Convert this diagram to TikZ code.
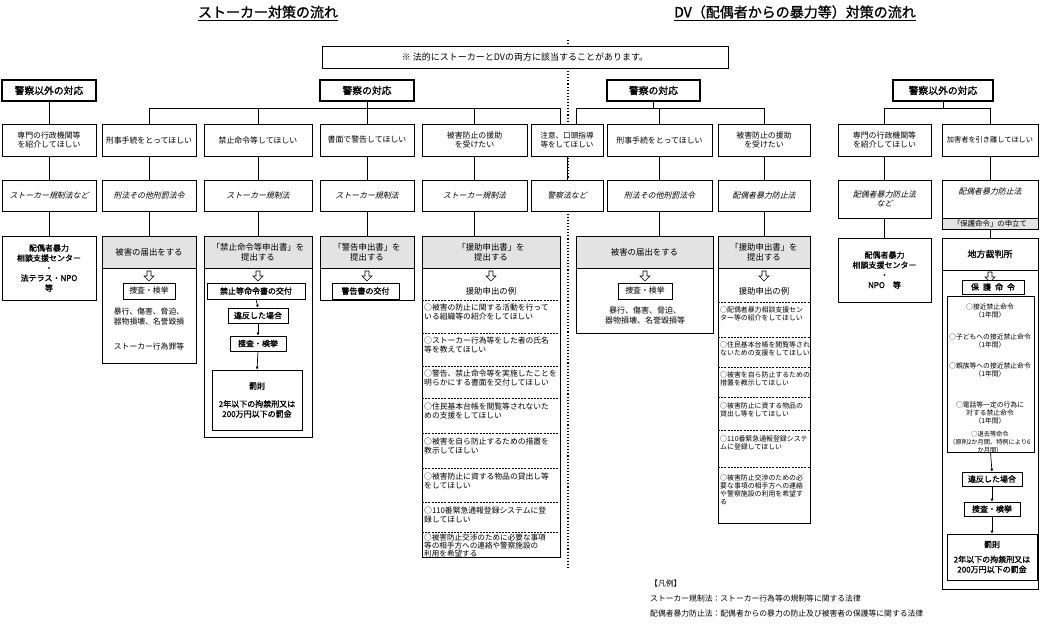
\documentclass[tikz,border=0pt]{standalone}
\usepackage{fontspec}
\setmainfont{Noto Sans CJK JP}
\newfontfamily\jb[FakeBold=1.2]{Noto Sans CJK JP}
\newfontfamily\ji[FakeSlant=0.25]{Noto Sans CJK JP}
\usetikzlibrary{arrows.meta}
\tikzset{
 b/.style={draw,fill=white,line width=0.7pt,inner sep=1pt,align=center,font=\fontsize{7.9}{9.5}\selectfont},
 hd/.style={b,line width=1.3pt,font=\jb\fontsize{9.8}{11}\selectfont},
 law/.style={b,font=\ji\fontsize{7.9}{9.5}\selectfont},
 sh/.style={b,fill=gray!22,font=\fontsize{8.4}{10}\selectfont},
 bb/.style={b,font=\jb\fontsize{8}{10}\selectfont},
 plain/.style={inner sep=0pt,align=center,font=\fontsize{7.8}{10}\selectfont},
 itA/.style={inner sep=1pt,align=left,anchor=north west,font=\fontsize{7.8}{8.8}\selectfont},
 itB/.style={inner sep=1pt,align=left,anchor=north west,font=\fontsize{6.9}{8.3}\selectfont},
 itC/.style={inner sep=0pt,align=center,font=\fontsize{6.8}{8.2}\selectfont},
 ln/.style={line width=0.8pt},
 arr/.style={line width=0.7pt,-{Latex[length=3pt,width=3pt]}},
 dsh/.style={dash pattern=on 2pt off 1.2pt,line width=0.6pt},
}
\newcommand\bx[7]{\node[#6,minimum width={(#4-#2)*1pt},minimum height={(#5-#3)*1pt}] (#1) at ({(#2+#4)/2},{(#3+#5)/2}) {#7};}
\newcommand\harrow[2]{\draw[line width=.6pt,fill=white] ({#1-2},#2) -- ({#1+2},#2) -- ({#1+2},{#2+5}) -- ({#1+5},{#2+5}) -- (#1,{#2+10}) -- ({#1-5},{#2+5}) -- ({#1-2},{#2+5}) -- cycle;}
\begin{document}
\begin{tikzpicture}[x=1pt,y=-1pt]
\useasboundingbox[fill=white] (0,0) rectangle (1050,633);
\draw[dotted,line width=1.1pt] (568,40) -- (568,570);
% titles
\node[font=\jb\fontsize{14}{16}\selectfont] (t1) at (268,13) {\underline{ストーカー対策の流れ}};
\node[font=\jb\fontsize{14}{16}\selectfont] (t2) at (795,13) {\underline{DV（配偶者からの暴力等）対策の流れ}};
\bx{note}{322}{46}{728}{68}{b,font=\fontsize{9}{10}\selectfont}{※ 法的にストーカーとDVの両方に該当することがあります。}
\coordinate (bar) at (0,108);
% ---- left non-police
\bx{Lh}{2}{80}{96}{101}{hd}{警察以外の対応}
\bx{La}{2}{124}{96}{156}{b}{専門の行政機関等\\を紹介してほしい}
\bx{Lb}{2}{180}{96}{211}{law}{ストーカー規制法など}
\bx{Lc}{2}{236}{96}{300}{bb}{配偶者暴力\\相談支援センター\\・\\法テラス・NPO\\等}
\draw[ln] (Lh.south)--(La.north) (La.south)--(Lb.north) (Lb.south)--(Lc.north);
% ---- stalker police
\bx{P1}{320}{80}{414}{101}{hd}{警察の対応}
% c1
\bx{c1a}{102}{124}{196}{156}{b}{刑事手続をとってほしい}
\bx{c1b}{102}{180}{196}{211}{law}{刑法その他刑罰法令}
\bx{c1o}{102}{236}{196}{363}{b}{}
\bx{c1h}{102}{236}{196}{268}{sh}{被害の届出をする}
\harrow{149}{271}
\bx{c1s}{123}{283}{175}{299}{b}{捜査・検挙}
\node[plain] (c1t) at (149,317) {暴行、傷害、脅迫、\\器物損壊、名誉毀損};
\node[plain] (c1u) at (149,347) {ストーカー行為罪等};
% c2
\bx{c2a}{204}{124}{312}{156}{b}{禁止命令等してほしい}
\bx{c2b}{204}{180}{312}{211}{law}{ストーカー規制法}
\bx{c2o}{204}{236}{312}{437}{b}{}
\bx{c2h}{204}{236}{312}{268}{sh}{「禁止命令等申出書」を\\提出する}
\harrow{258}{271}
\bx{c2s}{207}{283}{305}{299}{bb}{禁止等命令書の交付}
\bx{c2v}{228}{308}{288}{323}{bb}{違反した場合}
\bx{c2k}{230}{336}{286}{351}{bb}{捜査・検挙}
\bx{c2p}{212}{370}{302}{430}{bb}{罰則\\[8pt]2年以下の拘禁刑又は\\200万円以下の罰金}
\draw[arr] (c2s.south)--(c2v.north);
\draw[arr] (c2v.south)--(c2k.north);
\draw[arr] (c2k.south)--(c2p.north);
% c3
\bx{c3a}{320}{124}{414}{156}{b}{書面で警告してほしい}
\bx{c3b}{320}{180}{414}{211}{law}{ストーカー規制法}
\bx{c3o}{320}{236}{414}{300}{b}{}
\bx{c3h}{320}{236}{414}{268}{sh}{「警告申出書」を\\提出する}
\harrow{367}{271}
\bx{c3s}{332}{283}{399}{299}{bb}{警告書の交付}
% c4
\bx{c4a}{422}{124}{527}{156}{b}{被害防止の援助\\を受けたい}
\bx{c4b}{422}{180}{527}{211}{law}{ストーカー規制法}
\bx{c4o}{422}{236}{560}{557}{b}{}
\bx{c4h}{422}{236}{560}{268}{sh}{「援助申出書」を\\提出する}
\harrow{491}{271}
\node[plain,font=\fontsize{8.4}{10}\selectfont] (c4t) at (491,291) {援助申出の例};
\foreach \y in {300,333,366,398,433,468,502,532} \draw[dsh] (422,\y)--(560,\y);
\node[itA] (c4i1) at (423,303) {○被害の防止に関する活動を行って\\いる組織等の紹介をしてほしい};
\node[itA] (c4i2) at (423,336) {○ストーカー行為等をした者の氏名\\等を教えてほしい};
\node[itA] (c4i3) at (423,369) {○警告、禁止命令等を実施したことを\\明らかにする書面を交付してほしい};
\node[itA] (c4i4) at (423,402) {○住民基本台帳を閲覧等されないた\\めの支援をしてほしい};
\node[itA] (c4i5) at (423,437) {○被害を自ら防止するための措置を\\教示してほしい};
\node[itA] (c4i6) at (423,472) {○被害防止に資する物品の貸出し等\\をしてほしい};
\node[itA] (c4i7) at (423,506) {○110番緊急通報登録システムに登\\録してほしい};
\node[itA,font=\fontsize{7.6}{7.9}\selectfont] (c4i8) at (423,533) {○被害防止交渉のために必要な事項\\等の相手方への連絡や警察施設の\\利用を希望する};
% c5
\bx{c5a}{531}{124}{603}{156}{b,font=\fontsize{7.6}{9.5}\selectfont}{注意、口頭指導\\等をしてほしい}
\bx{c5b}{531}{180}{603}{211}{law}{警察法など}
% stalker police connectors
\draw[ln] (P1.south)--(P1.south|-bar);
\draw[ln] (c1a.north|-bar)--(560,108)--(560,124);
\foreach \n in {c1,c2,c3,c4}{
 \draw[ln] (\n a.north)--(\n a.north|-bar);
 \draw[ln] (\n a.south)--(\n b.north);
 \draw[ln] (\n b.south)--(\n b.south|-\n o.north);
}
\draw[ln] (c5a.south)--(c5b.north);
% ---- DV police
\bx{P2}{607}{80}{700}{101}{hd}{警察の対応}
\bx{d1a}{607}{124}{712}{156}{b}{刑事手続をとってほしい}
\bx{d1b}{607}{180}{712}{211}{law}{刑法その他刑罰法令}
\bx{d1o}{576}{236}{713}{333}{b}{}
\bx{d1h}{576}{236}{713}{268}{sh}{被害の届出をする}
\harrow{645}{271}
\bx{d1s}{618}{283}{672}{299}{b}{捜査・検挙}
\node[plain,font=\fontsize{8}{10}\selectfont] (d1t) at (645,315) {暴行、傷害、脅迫、\\器物損壊、名誉毀損等};
\bx{d2a}{718}{124}{810}{156}{b}{被害防止の援助\\を受けたい}
\bx{d2b}{718}{180}{810}{211}{law}{配偶者暴力防止法}
\bx{d2o}{718}{236}{810}{523}{b}{}
\bx{d2h}{718}{236}{810}{268}{sh}{「援助申出書」を\\提出する}
\harrow{764}{271}
\node[plain,font=\fontsize{8.4}{10}\selectfont] (d2t) at (764,291) {援助申出の例};
\foreach \y in {302,337,367,397,430,467} \draw[dsh] (718,\y)--(810,\y);
\node[itB] (d2i1) at (719,305) {○配偶者暴力相談支援セン\\ター等の紹介をしてほしい};
\node[itB] (d2i2) at (719,340) {○住民基本台帳を閲覧等され\\ないための支援をしてほしい};
\node[itB] (d2i3) at (719,370) {○被害を自ら防止するための\\措置を教示してほしい};
\node[itB] (d2i4) at (719,401) {○被害防止に資する物品の\\貸出し等をしてほしい};
\node[itB] (d2i5) at (719,434) {○110番緊急通報登録システ\\ムに登録してほしい};
\node[itB] (d2i6) at (719,473) {○被害防止交渉のための必\\要な事項の相手方への連絡\\や警察施設の利用を希望す\\る};
\draw[ln] (P2.south)--(P2.south|-bar);
\draw[ln] (576,124)--(576,108)--(d2a.north|-bar);
\foreach \n in {d1,d2}{
 \draw[ln] (\n a.north)--(\n a.north|-bar);
 \draw[ln] (\n a.south)--(\n b.north);
 \draw[ln] (\n b.south)--(\n b.south|-\n o.north);
}
% ---- DV non-police
\bx{R}{893}{80}{993}{101}{hd}{警察以外の対応}
\bx{e1a}{838}{124}{931}{156}{b}{専門の行政機関等\\を紹介してほしい}
\bx{e1b}{838}{180}{931}{218}{law}{配偶者暴力防止法\\など}
\bx{e1c}{838}{238}{931}{302}{bb}{配偶者暴力\\相談支援センター\\・\\NPO\quad 等}
\bx{e2a}{942}{124}{1038}{156}{b,font=\fontsize{7.2}{9}\selectfont}{加害者を引き離してほしい}
\bx{e2b}{942}{180}{1038}{218}{law}{配偶者暴力防止法\\[6pt]}
\bx{e2s}{942}{218}{1038}{229}{sh,font=\fontsize{7.4}{8}\selectfont,inner sep=0pt}{「保護命令」の申立て}
\bx{e2o}{942}{238}{1038}{589}{b}{}
\draw[line width=0.7pt] (942,270)--(1038,270);
\node[plain,font=\jb\fontsize{9}{10}\selectfont] (e2t) at (990,254) {地方裁判所};
\harrow{990}{272}
\bx{e2m}{962}{280}{1024}{294}{bb}{保\enspace 護\enspace 命\enspace 令}
\bx{e2i}{947}{296}{1034}{452}{b}{}
\node[itC] (e2i1) at (990,311) {○接近禁止命令\\（1年間）};
\node[itC] (e2i2) at (990,341) {○子どもへの接近禁止命令\\（1年間）};
\node[itC] (e2i3) at (990,370) {○親族等への接近禁止命令\\（1年間）};
\node[itC] (e2i4) at (990,413) {○電話等一定の行為に\\対する禁止命令\\（1年間）};
\node[itC,font=\fontsize{6.2}{8}\selectfont] (e2i5) at (990,442) {○退去等命令\\（原則2か月間、特例により6\\か月間）};
\bx{e2v}{962}{472}{1022}{486}{bb}{違反した場合}
\bx{e2k}{964}{502}{1020}{516}{bb}{捜査・検挙}
\bx{e2p}{947}{534}{1037}{580}{bb}{罰則\\[5pt]2年以下の拘禁刑又は\\200万円以下の罰金}
\draw[arr] (e2i.south)--(e2v.north);
\draw[arr] (e2v.south)--(e2k.north);
\draw[arr] (e2k.south)--(e2p.north);
\draw[ln] (R.south)--(R.south|-bar);
\draw[ln] (e1a.north|-bar)--(e2a.north|-bar);
\foreach \n in {e1,e2}{
 \draw[ln] (\n a.north)--(\n a.north|-bar);
 \draw[ln] (\n a.south)--(\n b.north);
}
\draw[ln] (e1b.south)--(e1c.north);
\draw[ln] (e2s.south)--(e2o.north);
% legend
\node[anchor=west,inner sep=0pt,font=\fontsize{7.8}{9}\selectfont] (lg0) at (650,584) {【凡例】};
\node[anchor=west,inner sep=0pt,font=\fontsize{7.8}{9}\selectfont] (lg1) at (650,599) {ストーカー規制法：ストーカー行為等の規制等に関する法律};
\node[anchor=west,inner sep=0pt,font=\fontsize{7.8}{9}\selectfont] (lg2) at (650,614) {配偶者暴力防止法：配偶者からの暴力の防止及び被害者の保護等に関する法律};
\end{tikzpicture}
\end{document}
